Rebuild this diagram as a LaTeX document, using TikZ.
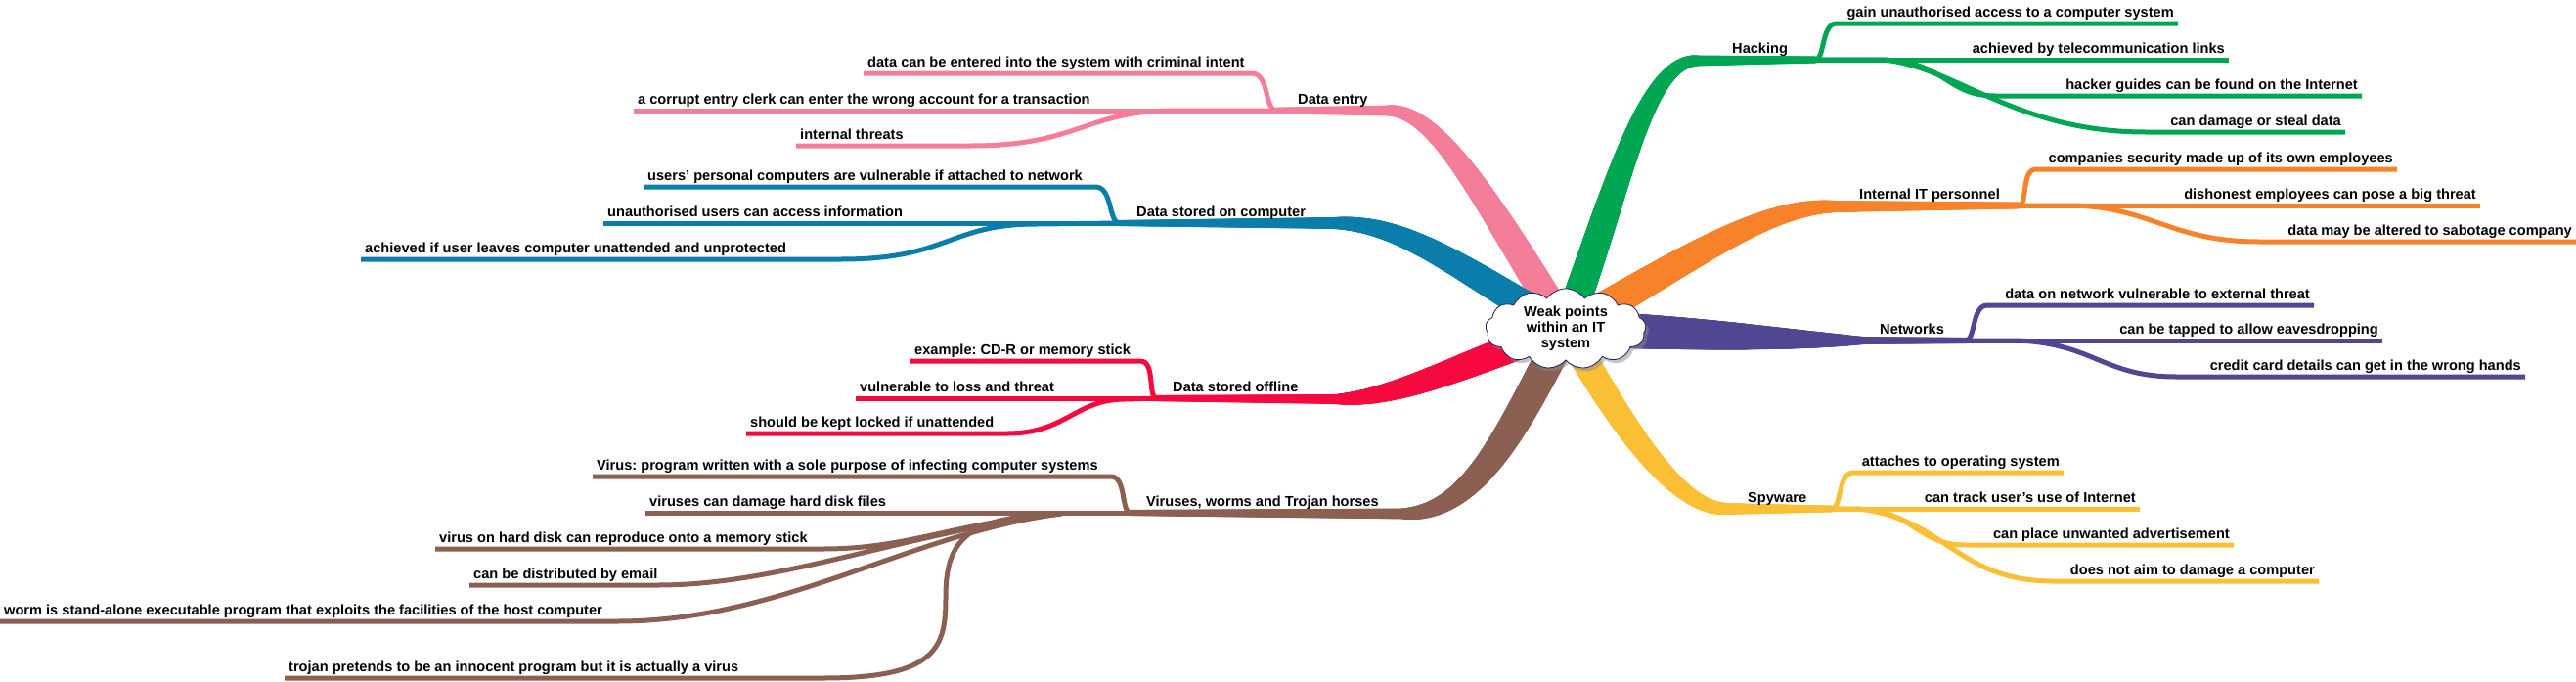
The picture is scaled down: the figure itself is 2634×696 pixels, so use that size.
\documentclass[tikz,border=0pt]{standalone}
\usepackage{fontspec}
\setmainfont{Liberation Sans}
\frenchspacing
\usetikzlibrary{shapes.symbols,shadows,decorations.markings}

\definecolor{entrycol}{HTML}{F47E98}
\definecolor{storedcol}{HTML}{0A7DAA}
\definecolor{offlinecol}{HTML}{F5093F}
\definecolor{viruscol}{HTML}{8C5F53}
\definecolor{hackcol}{HTML}{00A651}
\definecolor{staffcol}{HTML}{F7822A}
\definecolor{netcol}{HTML}{4F4791}
\definecolor{spycol}{HTML}{FBBF36}
\definecolor{cloudline}{HTML}{221C5C}

\pgfdeclarelayer{bg}
\pgfsetlayers{bg,main}

\tikzset{
  leaf/.style={font=\fontsize{14.6}{16}\selectfont\bfseries, inner xsep=4pt, inner ysep=0pt, text depth=6.5pt, text height=10.5pt},
  twig/.style={draw=#1, line width=5pt, line join=round},
  % radius goes from #1 to #2, shape exponent #3
  taper/.style n args={4}{postaction={decorate},
    decoration={markings, mark=between positions 0 and 1 step 1pt with {
      \pgfmathsetmacro\rad{#2+(#1-#2)*(1-((\pgfkeysvalueof{/pgf/decoration/mark info/sequence number}-1)/\pgfdecoratedpathlength)^#3)}
      \fill[#4] (0,0) circle[radius=\rad pt];}}},
}

\begin{document}
\begin{tikzpicture}[x=1pt,y=-1pt]
    \useasboundingbox (0,0) rectangle (2634,696);

    % Central topic
    \node[cloud, cloud puffs=13, cloud puff arc=110, aspect=2, minimum width=164pt, minimum height=80pt, inner sep=1pt,
          draw=cloudline, fill=white, line width=0.8pt, drop shadow={shadow xshift=3pt, shadow yshift=-3.5pt, fill=black!45},
          align=center, font=\fontsize{14.6}{16}\selectfont\bfseries] (weak) at (1601,336) {Weak points\\within an IT\\system};

    % Bends and junctions
    \coordinate (eh) at (1420,113);  \coordinate (ej) at (1305,113);
    \coordinate (sh) at (1365,228);  \coordinate (sj) at (1145,228);
    \coordinate (oh) at (1365,408);  \coordinate (oj) at (1183,407);
    \coordinate (vh) at (1435,525);  \coordinate (vj) at (1156,524);
    \coordinate (hh) at (1735,62);   \coordinate (hj) at (1856,61);
    \coordinate (ih) at (1875,211);  \coordinate (ij) at (2064,210);
    \coordinate (nh) at (1905,348);  \coordinate (nj) at (2010,348);
    \coordinate (yh) at (1765,520);  \coordinate (yj) at (1873,520);

    % Main branches
    \begin{pgfonlayer}{bg}
        \path[taper={15}{5.5}{2}{entrycol}] (weak.center) .. controls (1520,205) and (1470,113) .. (eh);
        \path[taper={5.5}{3.4}{1}{entrycol}] (eh) -- (ej);
        \path[taper={15}{6}{2}{storedcol}] (weak.center) .. controls (1500,280) and (1440,228) .. (sh);
        \path[taper={6}{3.2}{1}{storedcol}] (sh) -- (sj);
        \path[taper={14.5}{5}{2.5}{offlinecol}] (weak.center) .. controls (1500,370) and (1430,408) .. (oh);
        \path[taper={5}{3.2}{1}{offlinecol}] (oh) -- (oj);
        \path[taper={16}{5.5}{2.5}{viruscol}] (weak.center) .. controls (1550,430) and (1510,525) .. (vh);
        \path[taper={5.5}{3.2}{1}{viruscol}] (vh) -- (vj);
        \path[taper={15}{5.5}{2}{hackcol}] (weak.center) .. controls (1650,210) and (1680,62) .. (hh);
        \path[taper={5.5}{3.6}{1}{hackcol}] (hh) -- (hj);
        \path[taper={16}{6}{2}{staffcol}] (weak.center) .. controls (1720,270) and (1800,211) .. (ih);
        \path[taper={6}{3.5}{1}{staffcol}] (ih) -- (ij);
        \path[taper={18.5}{4}{2}{netcol}] (weak.center) .. controls (1700,338) and (1820,348) .. (nh);
        \path[taper={4}{3.2}{1}{netcol}] (nh) -- (nj);
        \path[taper={14}{6}{2}{spycol}] (weak.center) .. controls (1640,400) and (1705,520) .. (yh);
        \path[taper={6}{3.5}{1}{spycol}] (yh) -- (yj);
    \end{pgfonlayer}

    % Data entry
    \node[leaf, anchor=south west] (entry) at (1323,113) {Data entry};
    \node[leaf, anchor=south west] (e1) at (883,75) {data can be entered into the system with criminal intent};
    \node[leaf, anchor=south west] (e2) at (648,113) {a corrupt entry clerk can enter the wrong account for a transaction};
    \node[leaf, anchor=south west] (e3) at (814,149) {internal threats};
    \draw[twig=entrycol] (e1.south west) -- (1280,75) .. controls +(18,0) and +(-12,0) .. (ej);
    \draw[twig=entrycol] (e2.south west) -- (ej);
    \draw[twig=entrycol] (e3.south west) -- (993,149) .. controls +(110,0) and +(-90,0) .. (1200,113) -- (ej);

    % Data stored on computer
    \node[leaf, anchor=south west] (stored) at (1158,228) {Data stored on computer};
    \node[leaf, anchor=south west] (s1) at (658,191) {users' personal computers are vulnerable if attached to network};
    \node[leaf, anchor=south west] (s2) at (617,228) {unauthorised users can access information};
    \node[leaf, anchor=south west] (s3) at (369,265) {achieved if user leaves computer unattended and unprotected};
    \draw[twig=storedcol] (s1.south west) -- (1120,191) .. controls +(18,0) and +(-12,0) .. (sj);
    \draw[twig=storedcol] (s2.south west) -- (sj);
    \draw[twig=storedcol] (s3.south west) -- (860,265) .. controls +(110,0) and +(-90,0) .. (1060,229) -- (sj);

    % Data stored offline
    \node[leaf, anchor=south west] (offline) at (1195,407) {Data stored offline};
    \node[leaf, anchor=south west] (o1) at (931,369) {example: CD-R or memory stick};
    \node[leaf, anchor=south west] (o2) at (875,407) {vulnerable to loss and threat};
    \node[leaf, anchor=south west] (o3) at (763,443) {should be kept locked if unattended};
    \draw[twig=offlinecol] (o1.south west) -- (1166,369) .. controls +(16,0) and +(-10,0) .. (oj);
    \draw[twig=offlinecol] (o2.south west) -- (oj);
    \draw[twig=offlinecol] (o3.south west) -- (1030,443) .. controls +(60,0) and +(-50,0) .. (1150,408) -- (oj);

    % Viruses, worms and Trojan horses
    \node[leaf, anchor=south west] (virus) at (1168,524) {Viruses, worms and Trojan horses};
    \node[leaf, anchor=south west] (v1) at (606,487) {Virus: program written with a sole purpose of infecting computer systems};
    \node[leaf, anchor=south west] (v2) at (660,524) {viruses can damage hard disk files};
    \node[leaf, anchor=south west] (v3) at (445,561) {virus on hard disk can reproduce onto a memory stick};
    \node[leaf, anchor=south west] (v4) at (480,598) {can be distributed by email};
    \node[leaf, anchor=south west] (v5) at (0,635) {worm is stand-alone executable program that exploits the facilities of the host computer};
    \node[leaf, anchor=south west] (v6) at (291,693) {trojan pretends to be an innocent program but it is actually a virus};
    \coordinate (vk) at (1085,525);
    \draw[twig=viruscol] (v1.south west) -- (1136,487) .. controls +(16,0) and +(-10,0) .. (vj);
    \draw[twig=viruscol] (v2.south west) -- (vj);
    \draw[twig=viruscol] (v3.south west) -- (842,561) .. controls (930,561) and (980,533) .. (vk);
    \draw[twig=viruscol] (v4.south west) -- (673,598) .. controls (800,598) and (930,543) .. (vk);
    \draw[twig=viruscol] (v5.south west) -- (631,635) .. controls (800,635) and (930,545) .. (vk);
    \draw[twig=viruscol] (v6.south west) -- (842,693) .. controls (960,693) and (967,660) .. (967,610)
        .. controls (967,550) and (990,528) .. (vk);

    % Hacking
    \node[leaf, anchor=south west] (hack) at (1767,61) {Hacking};
    \node[leaf, anchor=south east] (h1) at (2227,24) {gain unauthorised access to a computer system};
    \node[leaf, anchor=south east] (h2) at (2279,61) {achieved by telecommunication links};
    \node[leaf, anchor=south east] (h3) at (2415,98) {hacker guides can be found on the Internet};
    \node[leaf, anchor=south east] (h4) at (2398,135) {can damage or steal data};
    \draw[twig=hackcol] (hj) .. controls +(10,0) and +(-16,0) .. (1878,24) -- (h1.south east);
    \draw[twig=hackcol] (hj) -- (h2.south east);
    \draw[twig=hackcol] (hj) -- (1925,61) .. controls (1990,63) and (1990,98) .. (2040,98) -- (h3.south east);
    \draw[twig=hackcol] (hj) -- (1925,61) .. controls (2000,68) and (2060,135) .. (2194,135) -- (h4.south east);

    % Internal IT personnel
    \node[leaf, anchor=south west] (staff) at (1897,210) {Internal IT personnel};
    \node[leaf, anchor=south east] (i1) at (2451,173) {companies security made up of its own employees};
    \node[leaf, anchor=south east] (i2) at (2536,210) {dishonest employees can pose a big threat};
    \node[leaf, anchor=south east] (i3) at (2634,247) {data may be altered to sabotage company};
    \draw[twig=staffcol] (ij) .. controls +(10,0) and +(-16,0) .. (2082,173) -- (i1.south east);
    \draw[twig=staffcol] (ij) -- (i2.south east);
    \draw[twig=staffcol] (ij) -- (2120,210) .. controls (2200,212) and (2220,247) .. (2310,247) -- (i3.south east);

    % Networks
    \node[leaf, anchor=south west] (net) at (1918,348) {Networks};
    \node[leaf, anchor=south east] (n1) at (2366,312) {data on network vulnerable to external threat};
    \node[leaf, anchor=south east] (n2) at (2436,348) {can be tapped to allow eavesdropping};
    \node[leaf, anchor=south east] (n3) at (2582,385) {credit card details can get in the wrong hands};
    \draw[twig=netcol] (nj) .. controls +(10,0) and +(-16,0) .. (2032,312) -- (n1.south east);
    \draw[twig=netcol] (nj) -- (n2.south east);
    \draw[twig=netcol] (nj) -- (2060,348) .. controls (2140,350) and (2150,385) .. (2225,385) -- (n3.south east);

    % Spyware
    \node[leaf, anchor=south west] (spy) at (1783,520) {Spyware};
    \node[leaf, anchor=south east] (y1) at (2110,483) {attaches to operating system};
    \node[leaf, anchor=south east] (y2) at (2188,520) {can track user's use of Internet};
    \node[leaf, anchor=south east] (y3) at (2284,557) {can place unwanted advertisement};
    \node[leaf, anchor=south east] (y4) at (2371,594) {does not aim to damage a computer};
    \draw[twig=spycol] (yj) .. controls +(10,0) and +(-16,0) .. (1895,483) -- (y1.south east);
    \draw[twig=spycol] (yj) -- (y2.south east);
    \draw[twig=spycol] (yj) -- (1900,520) .. controls (1960,523) and (1960,557) .. (2010,557) -- (y3.south east);
    \draw[twig=spycol] (yj) -- (1900,520) .. controls (1990,530) and (2000,594) .. (2100,594) -- (y4.south east);
\end{tikzpicture}
\end{document}
